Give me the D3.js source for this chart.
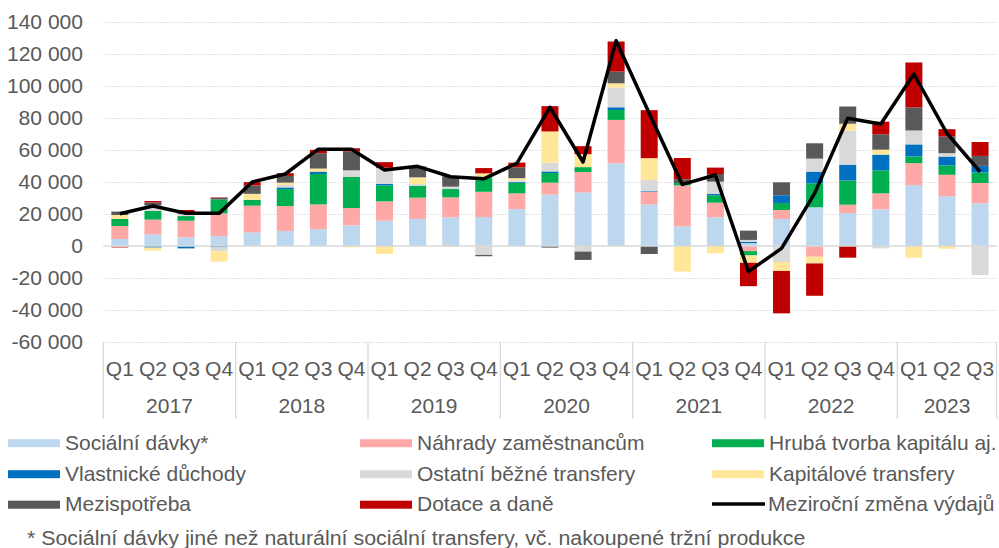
<!DOCTYPE html>
<html>
<head>
<meta charset="utf-8">
<script src="https://cdn.jsdelivr.net/npm/d3@7"></script>
<style>
  body { margin: 0; background: #fff; }
  text { font-family: "Liberation Sans", Arial, sans-serif; fill: #595959; }
</style>
</head>
<body>
<svg id="chart" width="999" height="548"></svg>
<script>
const periods = [
  "2017 Q1", "2017 Q2", "2017 Q3", "2017 Q4",
  "2018 Q1", "2018 Q2", "2018 Q3", "2018 Q4",
  "2019 Q1", "2019 Q2", "2019 Q3", "2019 Q4",
  "2020 Q1", "2020 Q2", "2020 Q3", "2020 Q4",
  "2021 Q1", "2021 Q2", "2021 Q3", "2021 Q4",
  "2022 Q1", "2022 Q2", "2022 Q3", "2022 Q4",
  "2023 Q1", "2023 Q2", "2023 Q3"
];
const years = ["2017", "2018", "2019", "2020", "2021", "2022", "2023"];
const yTicks = [-60000, -40000, -20000, 0, 20000, 40000, 60000, 80000, 100000, 120000, 140000];

// series (meziroční změna, mil. Kč)
const socialniDavky = [4400, 7300, 5400, 6200, 8500, 9400, 10600, 12900, 15800, 16900, 17900, 18100, 23100, 32100, 33500, 51700, 26000, 12300, 17900, 1800, 16900, 24200, 20600, 22900, 38100, 31000, 26700];
const nahrady = [8100, 9200, 10400, 14200, 16700, 15600, 15400, 10800, 12100, 13300, 12500, 15800, 9800, 7500, 12700, 27100, 7900, 25600, 9200, -3200, 5600, -6700, 5200, 10000, 13700, 13500, 12700];
const hrubaTvorba = [4400, 5400, 2900, 8700, 3700, 10600, 19000, 19600, 10000, 7500, 5200, 9000, 6700, 6000, 3100, 6200, 0, 1500, 4600, -2700, 4400, 15000, 15200, 14400, 4200, 5800, 6500];
const vlastnicke = [0, -1000, -1500, -800, 0, 1000, 1500, 0, 1000, 0, 0, 0, 500, 1000, 0, 1700, 400, 0, 800, 800, 4800, 7300, 9800, 9800, 7500, 5600, 4200];
const ostatni = [-500, 3500, 1500, -2500, 0, 1500, 0, 4000, 10000, 1000, 1500, -5600, 1000, 5400, -3500, 12300, 6900, 0, 7700, 1200, -10000, 8100, 21200, -1500, 8700, 2100, -18100];
const kapitalove = [2500, -1900, 0, -6500, 3700, 1500, 1900, -800, -5000, 4200, -600, 2500, 1300, 19600, 8100, 2700, 13700, -16000, -4600, -4600, -5600, -4200, 4400, 3100, -7300, -1700, 0];
const mezispotreba = [2100, 1800, 0, 1000, 5200, 4200, 9600, 11700, 0, 6000, 6200, -800, 6700, -1000, -5200, 7300, -5000, 2300, 4800, 5800, 8100, 9600, 10800, 9600, 14400, 10400, 6200];
const dotace = [-400, 900, 2300, 300, 2100, 1700, 2100, 2100, 3500, 800, 300, 3300, 3000, 15800, 5000, 18800, 30000, 13300, 4000, -14600, -26500, -20200, -7300, 7900, 28100, 4600, 8700];
const zmenaVydaju = [20200, 25000, 20500, 20400, 40000, 45000, 60500, 60500, 47500, 49800, 43300, 42000, 51700, 86700, 52500, 128300, 83000, 38500, 44400, -16000, -1500, 32900, 79800, 76200, 107500, 70400, 46400];

const series = [
  { key: "soc", name: "Sociální dávky*", values: socialniDavky, color: "#BDD7EE" },
  { key: "nahr", name: "Náhrady zaměstnancům", values: nahrady, color: "#FFA8A8" },
  { key: "hrub", name: "Hrubá tvorba kapitálu aj.", values: hrubaTvorba, color: "#00B050" },
  { key: "vlast", name: "Vlastnické důchody", values: vlastnicke, color: "#0070C0" },
  { key: "ost", name: "Ostatní běžné transfery", values: ostatni, color: "#D9D9D9" },
  { key: "kap", name: "Kapitálové transfery", values: kapitalove, color: "#FFE699" },
  { key: "mezi", name: "Mezispotřeba", values: mezispotreba, color: "#595959" },
  { key: "dot", name: "Dotace a daně", values: dotace, color: "#C00000" }
];
const lineName = "Meziroční změna výdajů";

const plot = { left: 103.3, right: 996.6, top: 22, bottom: 342 };
const sx = 1.05; // text in reference is slightly wide

const svg = d3.select("#chart");

const table = periods.map((p, i) => {
  const row = { period: p };
  series.forEach(s => row[s.key] = s.values[i]);
  return row;
});

const stacked = d3.stack()
  .keys(series.map(s => s.key))
  .offset(d3.stackOffsetDiverging)(table);

const xScale = d3.scaleBand()
  .domain(periods)
  .range([plot.left, plot.right])
  .paddingInner(0.486)
  .paddingOuter(0.243);
const yScale = d3.scaleLinear()
  .domain([-60000, 140000])
  .range([plot.bottom, plot.top]);

const fmt = d3.formatLocale({ decimal: ",", thousands: " ", grouping: [3], currency: ["", ""], minus: "-" }).format(",d");

// grid
const grid = svg.append("g")
  .attr("transform", `translate(${plot.left},0)`)
  .call(d3.axisLeft(yScale).tickValues(yTicks.filter(d => d !== 0)).tickSize(-(plot.right - plot.left)).tickFormat(""));
grid.select(".domain").remove();
grid.selectAll("line")
  .attr("stroke", "#D9D9D9")
  .attr("stroke-width", 1)
  .attr("stroke-dasharray", "1.5,1.5");

// y labels
const yAxisGroup = svg.append("g")
  .attr("transform", "translate(83,0)")
  .call(d3.axisLeft(yScale).tickValues(yTicks).tickSize(0).tickPadding(0).tickFormat(fmt));
yAxisGroup.select(".domain").remove();
yAxisGroup.selectAll("text")
  .attr("font-size", "19.5px")
  .attr("fill", "#595959")
  .attr("dy", null)
  .attr("y", 6.7)
  .attr("x", 0)
  .attr("transform", "scale(1.08,1)");

// bars
const layers = svg.append("g").selectAll("g")
  .data(stacked)
  .join("g")
  .attr("fill", (d, i) => series[i].color);
layers.selectAll("rect")
  .data(d => d)
  .join("rect")
  .attr("x", d => xScale(d.data.period))
  .attr("width", xScale.bandwidth())
  .attr("y", d => yScale(Math.max(d[0], d[1])))
  .attr("height", d => Math.abs(yScale(d[0]) - yScale(d[1])));

// zero line
svg.append("line")
  .attr("x1", plot.left).attr("x2", plot.right)
  .attr("y1", yScale(0)).attr("y2", yScale(0))
  .attr("stroke", "#D9D9D9")
  .attr("stroke-width", 1.5);

// total line
const line = d3.line()
  .x((d, i) => xScale(periods[i]) + xScale.bandwidth() / 2)
  .y(d => yScale(d));
svg.append("path")
  .datum(zmenaVydaju)
  .attr("d", line)
  .attr("fill", "none")
  .attr("stroke", "#000")
  .attr("stroke-width", 3.5)
  .attr("stroke-linejoin", "round");

// category axis
const step = xScale.step();
const xAxisGroup = svg.append("g");
xAxisGroup.selectAll(".q")
  .data(periods)
  .join("text")
  .attr("class", "q")
  .attr("text-anchor", "middle")
  .attr("font-size", "20px")
  .attr("transform", d => `translate(${xScale(d) + xScale.bandwidth() / 2},376) scale(${sx},1)`)
  .text(d => d.split(" ")[1]);

const yearSpan = years.map(y => {
  const idx = periods.map((p, i) => p.startsWith(y) ? i : -1).filter(i => i >= 0);
  return { year: y, x0: plot.left + idx[0] * step, x1: plot.left + (idx[idx.length - 1] + 1) * step };
});
xAxisGroup.selectAll(".y")
  .data(yearSpan)
  .join("text")
  .attr("class", "y")
  .attr("text-anchor", "middle")
  .attr("font-size", "20px")
  .attr("transform", d => `translate(${(d.x0 + d.x1) / 2},413) scale(${sx},1)`)
  .text(d => d.year);

const seps = [plot.left].concat(yearSpan.map(d => Math.min(d.x1, plot.right)));
xAxisGroup.selectAll(".sep")
  .data(seps)
  .join("line")
  .attr("class", "sep")
  .attr("x1", d => d).attr("x2", d => d)
  .attr("y1", plot.bottom).attr("y2", 419)
  .attr("stroke", "#D9D9D9")
  .attr("stroke-width", 1.3);

// legend
const legendItems = series.map(s => ({ name: s.name, color: s.color, type: "rect" }))
  .concat([{ name: lineName, color: "#000", type: "line" }]);
const legend = svg.append("g");
const colX = [8, 360, 712];
const rowY = [449.5, 480.5, 511];
const item = legend.selectAll("g")
  .data(legendItems)
  .join("g")
  .attr("transform", (d, i) => `translate(${colX[i % 3]},${rowY[Math.floor(i / 3)]})`);
item.filter(d => d.type === "rect").append("rect")
  .attr("x", 0).attr("y", -10.3)
  .attr("width", 52).attr("height", 8)
  .attr("fill", d => d.color);
item.filter(d => d.type === "line").append("line")
  .attr("x1", 0).attr("x2", 53)
  .attr("y1", -7).attr("y2", -7)
  .attr("stroke", "#000")
  .attr("stroke-width", 3.5);
item.append("text")
  .attr("font-size", "20px")
  .attr("transform", d => `translate(${d.type === "line" ? 56 : 57},0) scale(${sx},1)`)
  .text(d => d.name);

// footnote
svg.append("text")
  .attr("font-size", "20px")
  .attr("transform", "translate(27,545) scale(1.068,1)")
  .text("* Sociální dávky jiné než naturální sociální transfery, vč. nakoupené tržní produkce");
</script>
</body>
</html>
